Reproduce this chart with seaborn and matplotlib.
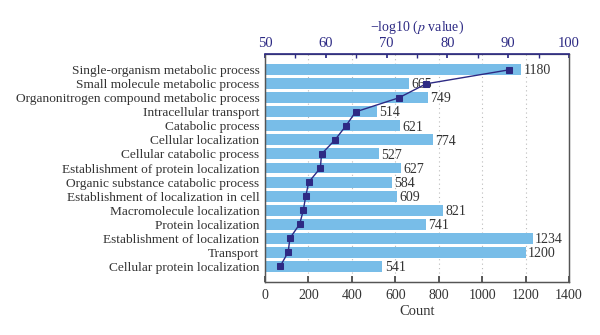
import numpy as np
import pandas as pd
import matplotlib
matplotlib.use("Agg")
import matplotlib.pyplot as plt
import seaborn as sns
from matplotlib.ticker import MultipleLocator

terms = [
    "Single-organism metabolic process",
    "Small molecule metabolic process",
    "Organonitrogen compound metabolic process",
    "Intracellular transport",
    "Catabolic process",
    "Cellular localization",
    "Cellular catabolic process",
    "Establishment of protein localization",
    "Organic substance catabolic process",
    "Establishment of localization in cell",
    "Macromolecule localization",
    "Protein localization",
    "Establishment of localization",
    "Transport",
    "Cellular protein localization",
]
counts = [1180, 665, 749, 514, 621, 774, 527, 627, 584, 609, 821, 741, 1234, 1200, 541]
neg_log_p = [90.2, 76.5, 72.0, 64.9, 63.3, 61.5, 59.3, 59.1, 57.2, 56.7, 56.3, 55.7, 54.1, 53.8, 52.5]

df = pd.DataFrame({"term": terms, "count": counts, "nlp": neg_log_p})
df["pos"] = np.arange(len(df))

sns.set_theme(style="white")
plt.rcParams["font.family"] = ["Liberation Serif", "DejaVu Serif"]
plt.rcParams["mathtext.fontset"] = "stix"
text_c = "#333333"
navy = "#2D2A84"
bar_c = "#78BDE8"

fig = plt.figure(figsize=(6.0, 3.35), dpi=100)
ax = fig.add_axes([0.4417, 0.158, 0.5066, 0.681])

sns.barplot(data=df, x="count", y="term", orient="h", color=bar_c,
            saturation=1, width=0.78, ax=ax)
for p in ax.patches:
    p.set_edgecolor("none")

ax.set_xlim(0, 1400)
ax.set_xticks(np.arange(0, 1401, 200))
ax.set_xlabel("Count", fontsize=10.5, color=text_c, labelpad=2)
ax.set_ylabel("")
ax.tick_params(axis="x", direction="in", length=4, labelsize=10, colors="#444444",
               labelcolor=text_c, pad=5)
ax.tick_params(axis="y", length=0, labelsize=9.6, labelcolor=text_c, pad=4)
for x in range(200, 1400, 200):
    ax.axvline(x, color="#BBBBBB", linestyle=(0, (1, 3)), linewidth=0.8, zorder=0)
for s in ax.spines.values():
    s.set_color("#555555")
    s.set_linewidth(0.9)

for i, c in enumerate(counts):
    ax.text(c + 10, i + 0.08, str(c), va="center", ha="left", fontsize=10, color=text_c)

ax2 = ax.twiny()
sns.lineplot(x=df["nlp"], y=df["pos"], sort=False, orient="y", color=navy,
             marker="s", markersize=5, markeredgecolor=navy, linewidth=1.0, ax=ax2)
ax2.set_xlim(50, 100)
ax2.set_xticks(np.arange(50, 101, 10))
ax2.xaxis.set_minor_locator(MultipleLocator(5))
ax2.tick_params(axis="x", which="both", direction="in", length=3, colors=navy,
                labelsize=10.5, labelcolor=navy, pad=3)
ax2.set_xlabel("\u2212log10 ($p$ value)", fontsize=10, color=navy, labelpad=4)
ax2.set_ylabel("")
ax2.spines["top"].set_color(navy)
ax2.spines["top"].set_linewidth(1.2)
for k in ("left", "right", "bottom"):
    ax2.spines[k].set_color("#555555")
    ax2.spines[k].set_linewidth(0.9)
ax2.set_ylim(ax.get_ylim())

fig.savefig("out.png", dpi=100)
